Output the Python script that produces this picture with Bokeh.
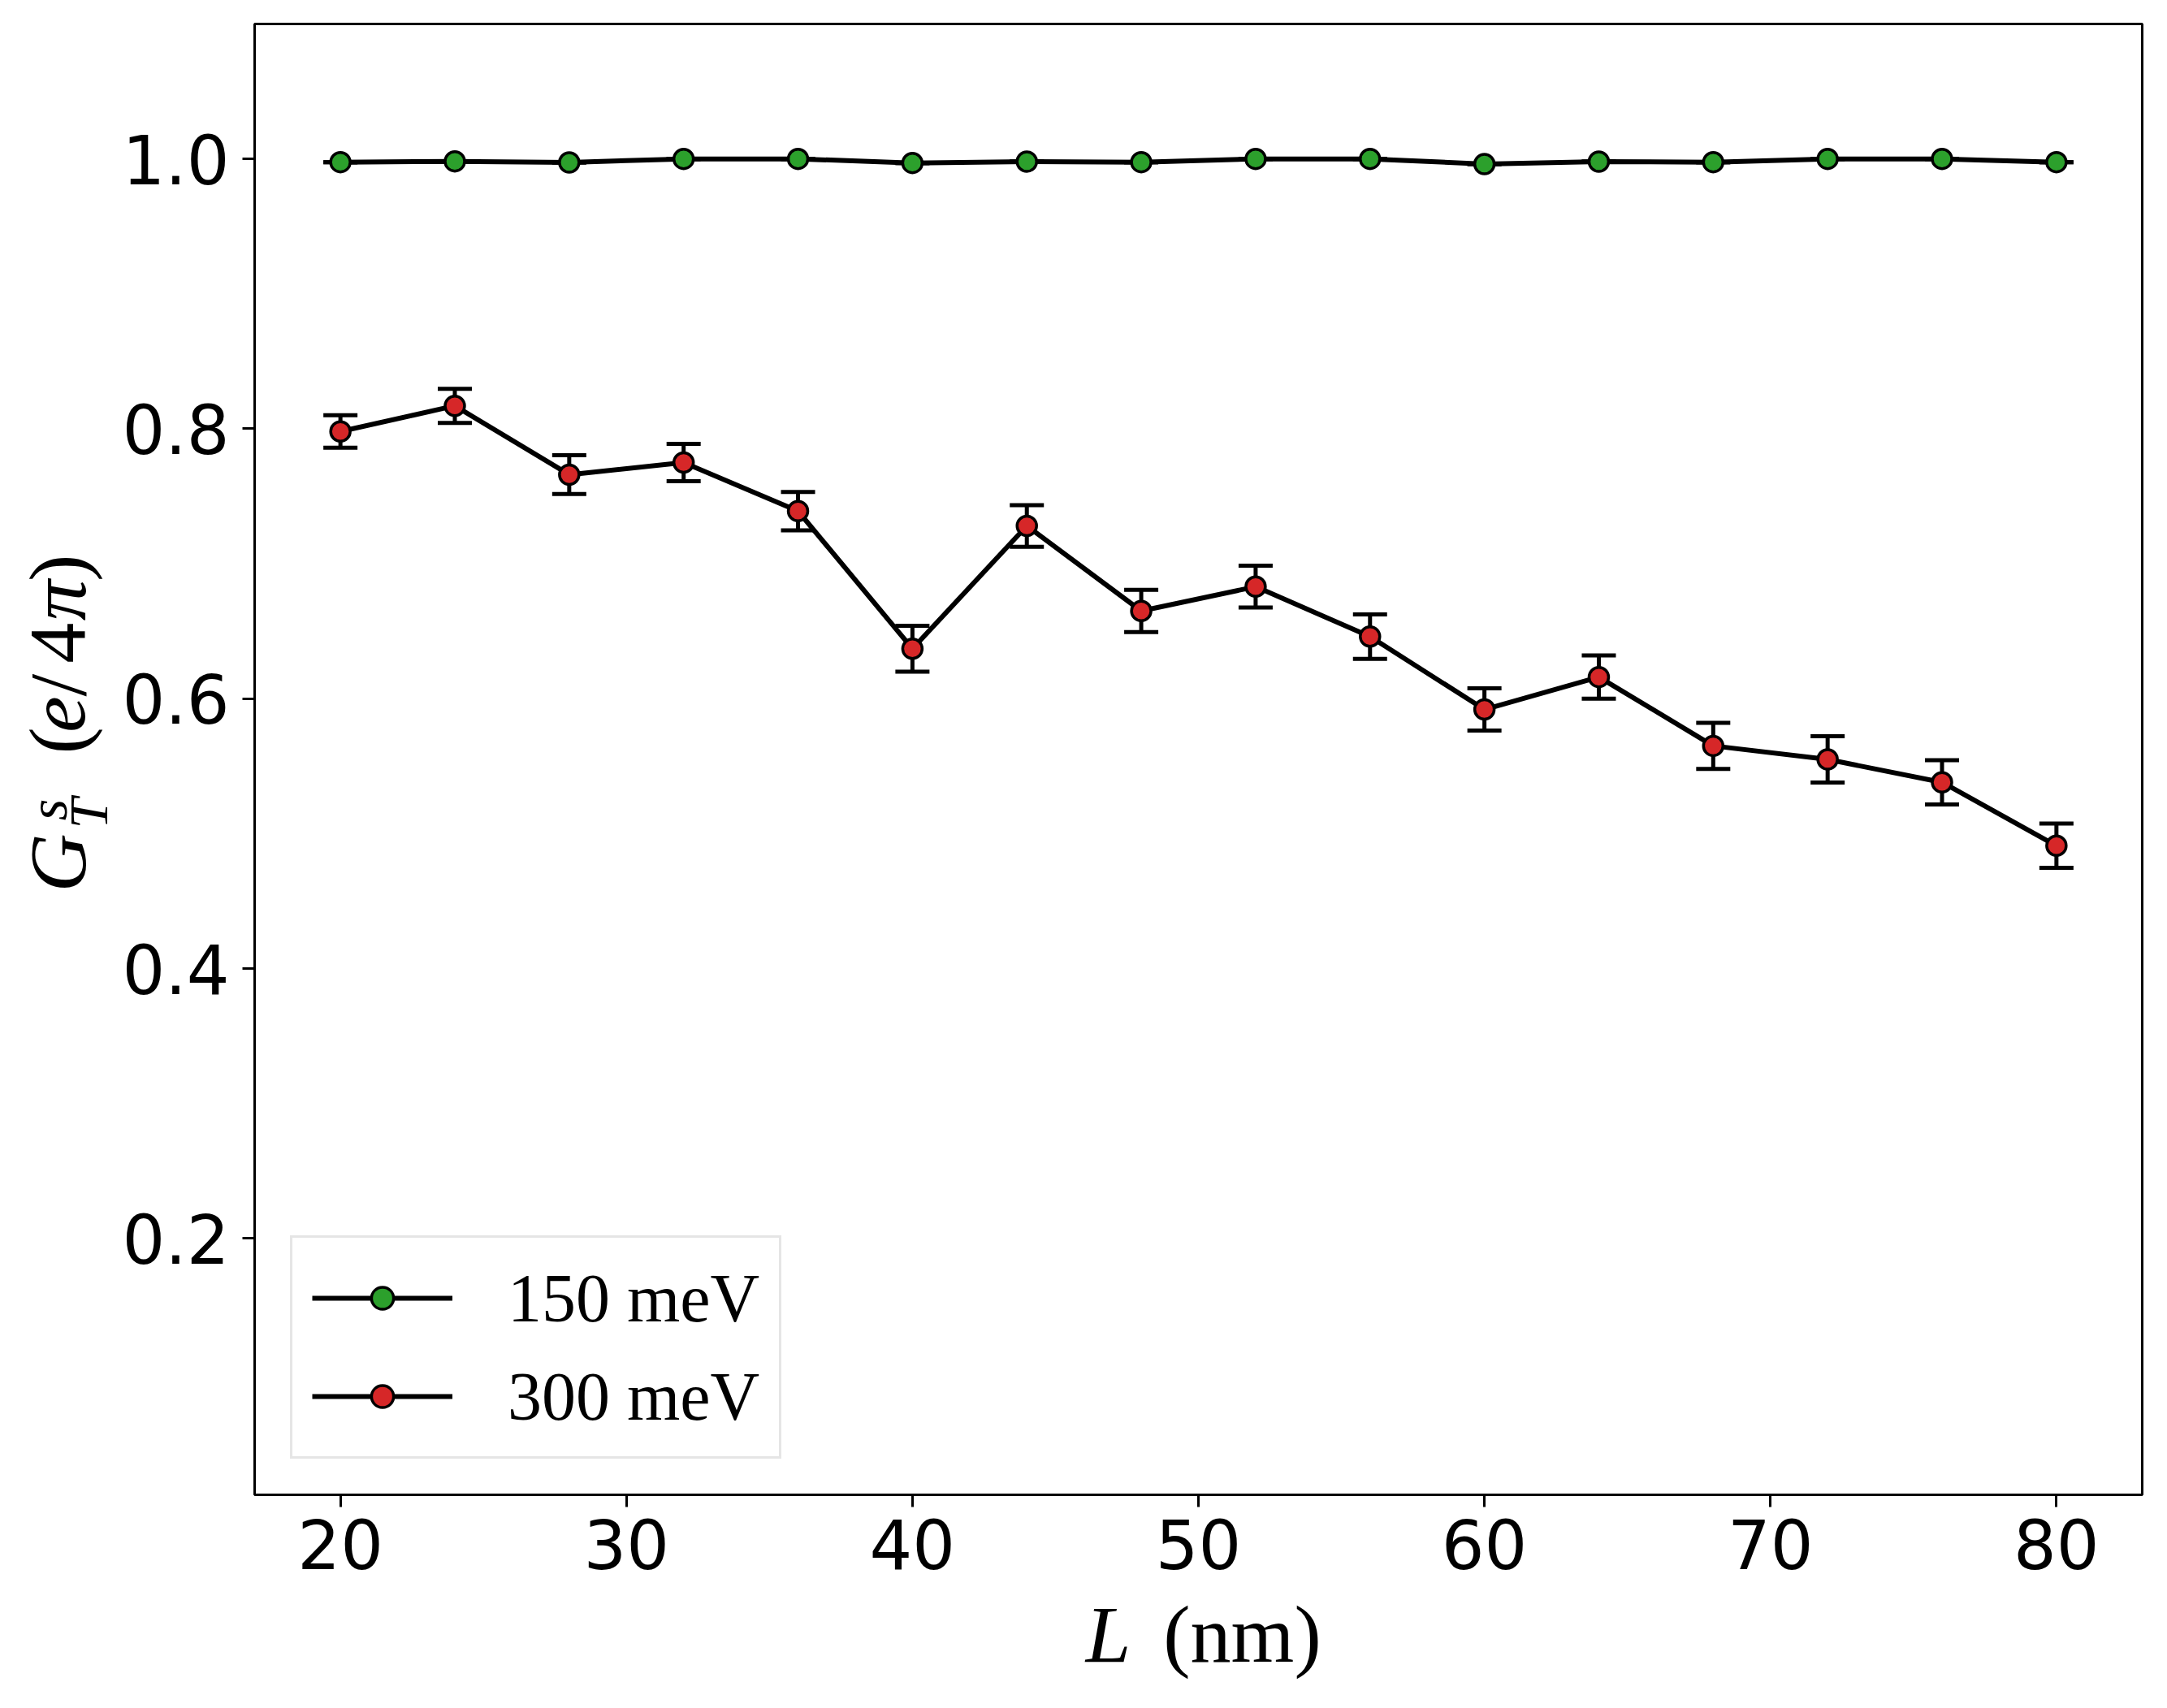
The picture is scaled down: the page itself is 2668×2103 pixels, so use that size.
import math
from bokeh.plotting import figure
from bokeh.layouts import row, column
from bokeh.models import (Range1d, Whisker, TeeHead, ColumnDataSource, Legend,
                          LegendItem, Label, NumeralTickFormatter)
from bokeh.embed import file_html
from bokeh.resources import INLINE

# ---------------- data ----------------
L_nm = [20, 24, 28, 32, 36, 40, 44, 48, 52, 56, 60, 64, 68, 72, 76, 80]
G_150 = [0.9976, 0.9982, 0.9974, 1.0, 1.0, 0.9970, 0.9980, 0.9976,
         1.0, 1.0, 0.9962, 0.9980, 0.9976, 1.0, 1.0, 0.9976]
E_150 = [0.0, 0.0, 0.0, 0.0, 0.0, 0.0, 0.0, 0.0,
         0.0, 0.0, 0.0, 0.0, 0.0, 0.0, 0.0, 0.0]
G_300 = [0.798, 0.817, 0.766, 0.775, 0.739, 0.637, 0.728, 0.665,
         0.683, 0.646, 0.592, 0.616, 0.565, 0.555, 0.538, 0.491]
E_300 = [0.0120, 0.0126, 0.0144, 0.0139, 0.0142, 0.0170, 0.0154, 0.0157,
         0.0155, 0.0165, 0.0157, 0.0160, 0.0171, 0.0172, 0.0164, 0.0164]
labels = ["150 meV", "300 meV"]
colors = ["#2ca02c", "#d62728"]
x_ticks = [20, 30, 40, 50, 60, 70, 80]
y_ticks = [0.2, 0.4, 0.6, 0.8, 1.0]

XMIN, XMAX = 17, 83
YMIN, YMAX = 0.01, 1.1

# ---------------- layout sizes (px) ----------------
TOTAL_W, TOTAL_H = 2652, 2087
WL = 140                 # width taken by the y-label strip in the row
OVL = 30                 # y-label strip reaches this far under the main plot
HM = 1960                # height of the main plot
OVER = 50                # x-label strip overlaps the main plot's bottom border
FRAME_L, FRAME_T = 313, 29
FRAME_W, FRAME_H = 2324, 1811
PW = TOTAL_W - WL
BL = FRAME_L - WL
BR = PW - BL - FRAME_W
BT = FRAME_T
BB = HM - BT - FRAME_H

p = figure(width=PW, height=HM, output_backend="svg", toolbar_location=None,
           x_range=Range1d(XMIN, XMAX), y_range=Range1d(YMIN, YMAX),
           min_border_left=BL, min_border_right=BR,
           min_border_top=BT, min_border_bottom=BB)
p.xgrid.visible = False
p.ygrid.visible = False
p.outline_line_color = "black"
p.outline_line_width = 3
p.background_fill_color = "white"
p.border_fill_color = None

for ax in (p.xaxis, p.yaxis):
    ax.major_label_text_font = "DejaVu Sans"
    ax.major_label_text_font_size = "83px"
    ax.major_label_text_color = "black"
    ax.major_tick_out = 15
    ax.major_tick_in = 0
    ax.major_tick_line_width = 3
    ax.major_tick_line_color = "black"
    ax.minor_tick_out = 0
    ax.minor_tick_in = 0
    ax.axis_line_color = None
p.xaxis.ticker = x_ticks
p.yaxis.ticker = y_ticks
p.yaxis.formatter = NumeralTickFormatter(format="0.0")
p.xaxis.major_label_standoff = 14
p.yaxis.major_label_standoff = 16

series = [(G_150, E_150), (G_300, E_300)]
items = []
for (ys, es), lab, col in zip(series, labels, colors):
    src = ColumnDataSource(dict(x=L_nm, y=ys,
                                upper=[v + e for v, e in zip(ys, es)],
                                lower=[v - e for v, e in zip(ys, es)]))
    wh = Whisker(base="x", upper="upper", lower="lower", source=src,
                 line_color="black", line_width=5, level="underlay",
                 upper_head=TeeHead(size=42, line_width=5, line_color="black"),
                 lower_head=TeeHead(size=42, line_width=5, line_color="black"))
    p.add_layout(wh)
    ln = p.line("x", "y", source=src, line_color="black", line_width=6)
    sc = p.scatter("x", "y", source=src, size=24, fill_color=col,
                   line_color="black", line_width=3.5)
    items.append(LegendItem(label=lab, renderers=[ln, sc]))

legend = Legend(items=items, location="bottom_left", margin=44, padding=24,
                spacing=21, glyph_width=173, glyph_height=68, label_height=100,
                label_standoff=68, label_text_font="Liberation Serif",
                label_text_font_size="84px", label_text_color="black",
                border_line_color="#cccccc", border_line_width=3,
                background_fill_color="white", background_fill_alpha=0.8)
p.add_layout(legend)


def strip(w, h, x0, y0, transparent=False):
    """Blank figure whose data coordinates equal page pixels."""
    f = figure(width=w, height=h, output_backend="svg", toolbar_location=None,
               x_range=Range1d(x0, x0 + w), y_range=Range1d(y0 + h, y0),
               x_axis_type=None, y_axis_type=None, min_border=0)
    f.xgrid.visible = False
    f.ygrid.visible = False
    f.outline_line_color = None
    if transparent:
        f.background_fill_color = None
        f.border_fill_color = None
    else:
        f.background_fill_color = "white"
        f.border_fill_color = "white"
    return f


SHIFT = 0.37   # baseline correction, fraction of font size


def add_text(f, txt, px, py, size, italic=False, rotated=False):
    """px/py: ink centre along the reading direction and baseline position."""
    if rotated:
        x, y, ang = px - SHIFT * size, py, math.pi / 2
    else:
        x, y, ang = px, py - SHIFT * size, 0.0
    f.add_layout(Label(x=x, y=y, text=txt, angle=ang,
                       text_font="Liberation Serif", text_font_size=f"{size}px",
                       text_font_style="italic" if italic else "normal",
                       text_align="center", text_baseline="alphabetic",
                       text_color="black"))


left = strip(WL + OVL, HM, 0, 0)
left.margin = (0, -OVL, 0, 0)
# y-axis label:  G_T^s (e/4π)   (rotated; baseline x, centre y)
add_text(left, "G", 108, 1118, 100, italic=True, rotated=True)
add_text(left, "s", 84, 1047, 68, italic=True, rotated=True)
add_text(left, "T", 134, 1052, 68, italic=True, rotated=True)
add_text(left, "(", 108, 955, 100, rotated=True)
add_text(left, "e", 108, 920, 100, italic=True, rotated=True)
add_text(left, "/", 108, 881, 100, rotated=True)
add_text(left, "4", 108, 825, 100, rotated=True)
add_text(left, "π", 108, 768, 100, italic=True, rotated=True)
add_text(left, ")", 108, 725, 100, rotated=True)

bottom = strip(TOTAL_W, TOTAL_H - HM + OVER, 0, HM - OVER, transparent=True)
bottom.margin = (-OVER, 0, 0, 0)
# x-axis label:  L (nm)   (centre x, baseline y)
add_text(bottom, "L", 1364, 2049, 100, italic=True)
add_text(bottom, "(nm)", 1529, 2049, 100)

page = column(row(left, p, spacing=0), bottom, spacing=0)

open("out.html", "w").write(file_html(page, INLINE))
